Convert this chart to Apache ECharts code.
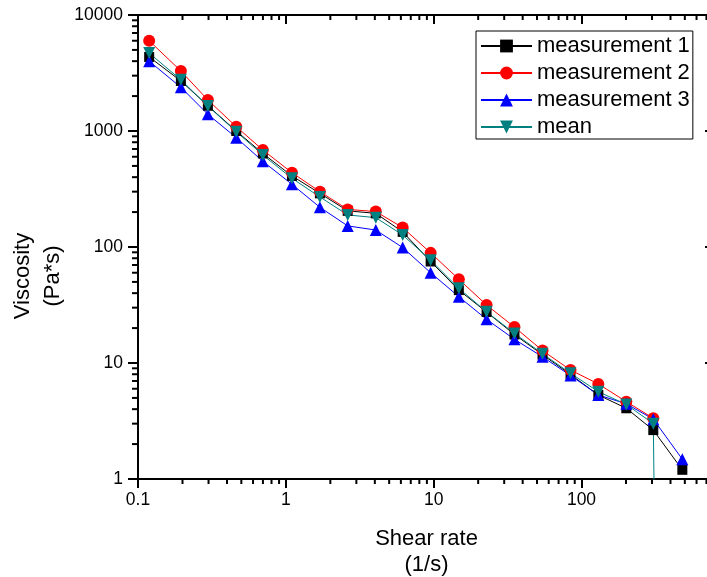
<!DOCTYPE html>
<html><head><meta charset="utf-8">
<script src="https://cdn.jsdelivr.net/npm/echarts@6/dist/echarts.min.js"></script>
<style>html,body{margin:0;padding:0;background:#fff}#c{width:707px;height:577px}</style>
</head><body><div id="c"></div>
<script>
const shearRate = [0.119,0.195,0.297,0.462,0.699,1.10,1.70,2.62,4.06,6.17,9.54,14.8,22.8,35.2,54.5,84.3,130,201,306,481];
const measurement1 = [4350,2700,1650,1000,640,410,290,205,195,135,75,42.5,27.5,17.6,11.8,7.95,5.3,4.07,2.64,1.2];
const measurement2 = [6000,3290,1850,1090,686,437,300,211,202,147,89,52.7,31.6,20.4,12.8,8.7,6.6,4.64,3.34,null];
const measurement3 = [4000,2380,1393,876,548,347,220,152,140,99,60,37.3,23.8,16,11.3,7.8,5.3,4.45,3.28,1.48];
const meanValues = [4700,2760,1640,986,621,391,270,189,179,127,77,44,27.6,18,12,8.15,5.66,4.39,3.0,1e-20];
const seriesNames = ['measurement 1','measurement 2','measurement 3','mean'];
const xMinorTicks = [0.2,0.3,0.4,0.5,0.6,0.7,0.8,0.9,2,3,4,5,6,7,8,9,20,30,40,50,60,70,80,90,200,300,400,500,600,700];
const yMinorTicks = [2,3,4,5,6,7,8,9,20,30,40,50,60,70,80,90,200,300,400,500,600,700,800,900,2000,3000,4000,5000,6000,7000,8000,9000];
const xTitle = 'Shear rate\n(1/s)';
const yTitle = 'Viscosity\n(Pa*s)';

const FONT = 'Liberation Sans, Arial, sans-serif';
const chart = echarts.init(document.getElementById('c'), null, {renderer:'canvas'});
function pairs(ys){ return shearRate.map((x,i)=>[x, ys[i]]); }
const axisCommon = {
  axisLine:{show:true, onZero:false, lineStyle:{color:'#000', width:2}},
  splitLine:{show:false},
  minorTick:{show:false},
  minorSplitLine:{show:false}
};
const fmt = v => String(v);
function mkX(pos, inside, showLabel, name){
  return Object.assign({}, axisCommon, {
    type:'log', logBase:10, min:0.1, max:800, position:pos,
    axisTick:{show:true, inside:inside, length:9, lineStyle:{color:'#000', width:2}},
    axisLabel:{show:showLabel, showMaxLabel:false, fontSize:17.5, fontFamily:FONT, color:'#000', margin:12, formatter:fmt},
    name: name||'', nameLocation:'middle', nameGap:47, nameMoveOverlap:false,
    nameTextStyle:{fontSize:22, fontFamily:FONT, color:'#000', lineHeight:26}
  });
}
function mkY(pos, inside, showLabel, name){
  return Object.assign({}, axisCommon, {
    type:'log', logBase:10, min:1, max:10000, position:pos,
    axisTick:{show:true, inside:inside, length:10, lineStyle:{color:'#000', width:2}},
    axisLabel:{show:showLabel, fontSize:17.5, fontFamily:FONT, color:'#000', margin:15, formatter:fmt},
    name: name||'', nameLocation:'middle', nameGap:70, nameMoveOverlap:false,
    nameTextStyle:{fontSize:22, fontFamily:FONT, color:'#000', lineHeight:30, padding:[0,58,0,0]}
  });
}
// minor ticks: small rect symbols placed through the axes' log scales
function tickMarks(name, points, size, offset){
  return {
    name:name, type:'scatter', xAxisIndex:0, yAxisIndex:0, silent:true, clip:false, z:5,
    data: points, symbol:'rect', symbolSize:size, symbolOffset:offset,
    itemStyle:{color:'#000', opacity:1}
  };
}
const colors = ['#000000','#ff0000','#0000ff','#008080'];
const symbols = ['rect','circle','triangle','triangle'];
const sizes = [10,12,12,12];
const datas = [measurement1, measurement2, measurement3, meanValues];
const lineSeries = seriesNames.map((n,i)=>({
  name:n, type:'line', xAxisIndex:0, yAxisIndex:0, data:pairs(datas[i]),
  symbol:symbols[i], symbolSize:sizes[i], symbolRotate: i===3?180:0,
  showAllSymbol:true, clip:true, z:10,
  lineStyle:{color:colors[i], width:1},
  itemStyle:{color:colors[i], borderWidth:0},
  emphasis:{disabled:true}
}));
const tickSeries = [
  tickMarks('xMinorBottom', xMinorTicks.map(v=>[v,1]), [2,5], [0,2.5]),
  tickMarks('xMinorTop', xMinorTicks.map(v=>[v,10000]), [2,5], [0,2.5]),
  tickMarks('yMinorLeft', yMinorTicks.map(v=>[0.1,v]), [6,2], [-3,0])
];
chart.setOption({
  backgroundColor:'#fff',
  animation:false,
  grid:{left:138, top:15, width:577, height:464, containLabel:false, outerBoundsMode:'none'},
  xAxis:[mkX('bottom', false, true, xTitle), mkX('top', true, false)],
  yAxis:[mkY('left', false, true, yTitle), mkY('right', true, false)],
  legend:{
    orient:'vertical', left:476, top:31, data:seriesNames,
    backgroundColor:'#fff', borderColor:'#000', borderWidth:1, borderRadius:0,
    padding:[4,3,1,4], itemGap:5, itemWidth:51, itemHeight:16,
    textStyle:{fontSize:22, lineHeight:22, fontFamily:FONT, color:'#000'}
  },
  series: lineSeries.concat(tickSeries)
});
</script></body></html>
